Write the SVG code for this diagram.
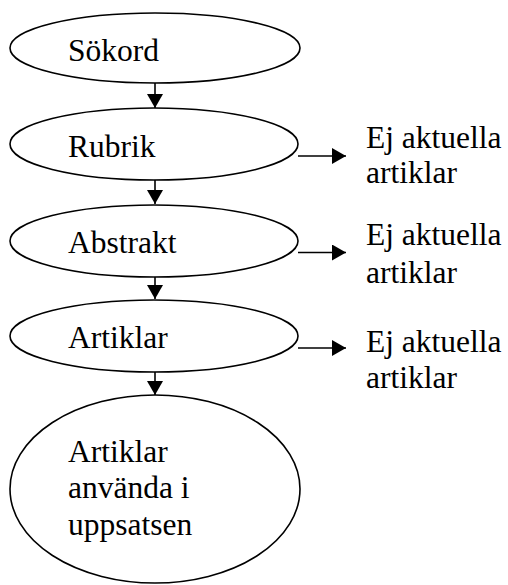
<svg xmlns="http://www.w3.org/2000/svg" width="508" height="585" viewBox="0 0 508 585">
<style>
.node ellipse{fill:#fff;stroke:#000;stroke-width:1.6}
.t{font-family:'Liberation Serif','Times New Roman','DejaVu Serif',serif;font-size:31.5px;fill:#000}
.conn line{stroke:#000;stroke-width:1.6}
</style>
<defs>
<marker id="ah" markerUnits="userSpaceOnUse" markerWidth="16" markerHeight="16" viewBox="0 0 14 16" refX="14" refY="8" orient="auto">
<path d="M0,0 L14,8 L0,16 Z" fill="#000"/>
</marker>
</defs>
<rect width="508" height="585" fill="#fff"/>
<g class="conn">
<line x1="155" y1="83" x2="155" y2="108" marker-end="url(#ah)"/>
<line x1="155" y1="180" x2="155" y2="204" marker-end="url(#ah)"/>
<line x1="155" y1="277" x2="155" y2="299" marker-end="url(#ah)"/>
<line x1="155" y1="372" x2="155" y2="395" marker-end="url(#ah)"/>
<line x1="298" y1="156" x2="346" y2="156" marker-end="url(#ah)"/>
<line x1="298" y1="252.5" x2="346" y2="252.5" marker-end="url(#ah)"/>
<line x1="298" y1="348" x2="346" y2="348" marker-end="url(#ah)"/>
</g>
<g class="t" font-family="Liberation Serif, serif">
<g id="sokord" class="node"><ellipse cx="155" cy="48" rx="145" ry="35"/><text x="68" y="61">Sökord</text></g>
<g id="rubrik" class="node"><ellipse cx="154" cy="144" rx="144" ry="36"/><text x="68" y="157">Rubrik</text></g>
<g id="abstrakt" class="node"><ellipse cx="154" cy="241" rx="144" ry="36"/><text x="68" y="253">Abstrakt</text></g>
<g id="artiklar" class="node"><ellipse cx="154" cy="336" rx="144" ry="36"/><text x="68" y="348">Artiklar</text></g>
<g id="anvanda" class="node"><ellipse cx="155" cy="489" rx="145" ry="94"/><text x="68" y="462">Artiklar</text><text x="68" y="498">använda i</text><text x="68" y="535">uppsatsen</text></g>
<g id="ej1"><text x="366" y="148">Ej aktuella</text><text x="366" y="183">artiklar</text></g>
<g id="ej2"><text x="366" y="245">Ej aktuella</text><text x="366" y="283">artiklar</text></g>
<g id="ej3"><text x="366" y="352">Ej aktuella</text><text x="366" y="388">artiklar</text></g>
</g>
</svg>
